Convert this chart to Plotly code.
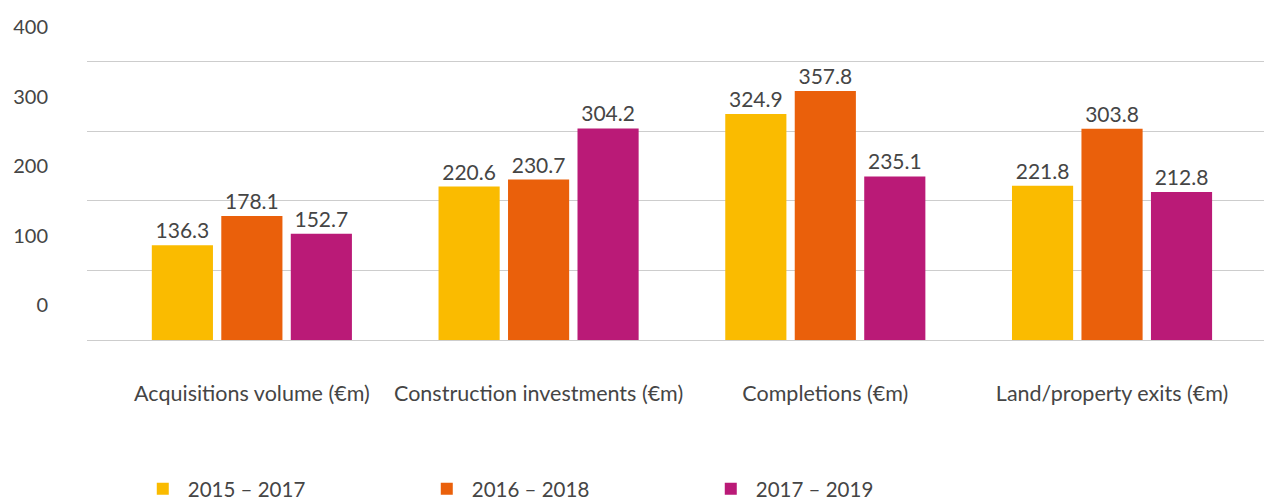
import plotly.graph_objects as go

categories = ["Acquisitions volume (€m)", "Construction investments (€m)",
              "Completions (€m)", "Land/property exits (€m)"]
series_names = ["2015 – 2017", "2016 – 2018", "2017 – 2019"]
values_2015_2017 = [136.3, 220.6, 324.9, 221.8]
values_2016_2018 = [178.1, 230.7, 357.8, 303.8]
values_2017_2019 = [152.7, 304.2, 235.1, 212.8]
y_ticks = [0, 100, 200, 300, 400]

colors = ["#FABB00", "#EA600B", "#BA1A77"]
font_family = "Lato, 'Open Sans', sans-serif"
text_color = "#454545"

fig = go.Figure()
for name, vals, col in zip(series_names,
                           [values_2015_2017, values_2016_2018, values_2017_2019],
                           colors):
    fig.add_trace(go.Bar(
        x=categories, y=vals, name=name,
        marker=dict(color=col, line=dict(width=0)),
        texttemplate="%{y:.1f}", textposition="outside",
        textfont=dict(size=21, color=text_color, family=font_family),
        cliponaxis=False,
    ))

# invisible helper trace to drive the shifted tick label axis
fig.add_trace(go.Scatter(x=[categories[0]], y=[0], yaxis="y2", mode="markers",
                         marker=dict(opacity=0), showlegend=False, hoverinfo="skip"))

fig.update_layout(
    width=1264, height=502,
    margin=dict(l=87, r=0, t=20, b=162, autoexpand=False),
    paper_bgcolor="white", plot_bgcolor="white",
    barmode="group", bargap=0.273, bargroupgap=0.12,
    font=dict(family=font_family, color=text_color, size=18),
    xaxis=dict(
        type="category", range=[-0.575, 3.53], automargin=False,
        showgrid=False, showline=False, ticks="",
        tickfont=dict(size=21.5, color=text_color),
        ticklabelstandoff=38,
    ),
    yaxis=dict(
        range=[0, 460], tickvals=y_ticks, showticklabels=False, automargin=False,
        showgrid=True, gridcolor="#CDCDCD", gridwidth=1.2,
        zeroline=True, zerolinecolor="#CDCDCD", zerolinewidth=1.2,
        showline=False, ticks="",
    ),
    yaxis2=dict(
        overlaying="y", side="left", range=[-50, 410], automargin=False,
        tickvals=y_ticks, ticktext=[str(v) for v in y_ticks],
        showgrid=False, zeroline=False, showline=False, ticks="",
        tickfont=dict(size=20, color=text_color),
        ticklabelstandoff=38,
    ),
    legend=dict(
        orientation="h", xref="container", x=0.109, xanchor="left",
        yref="container", y=0.026, yanchor="middle",
        entrywidth=229, entrywidthmode="pixels", itemwidth=40,
        font=dict(size=20.5, color=text_color),
        bgcolor="rgba(0,0,0,0)",
    ),
    showlegend=True,
)

fig.write_html("out.html", config={"displayModeBar": False},
               post_script="document.body.style.margin='0';document.body.style.overflow='hidden';")
